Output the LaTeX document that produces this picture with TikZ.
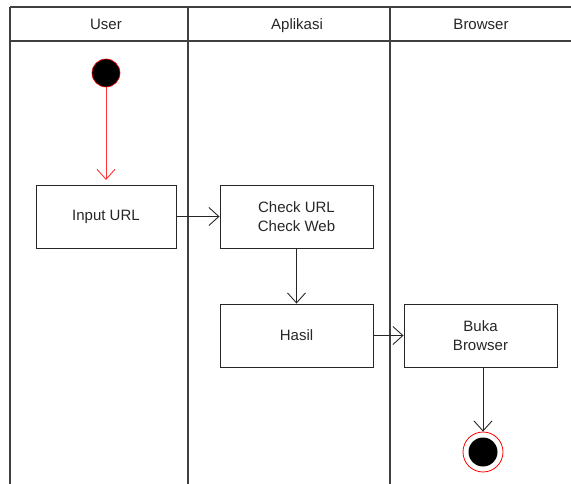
\documentclass[tikz,border=0pt]{standalone}
\usepackage{fontspec}
\setmainfont{Liberation Sans}
\usetikzlibrary{arrows.meta}
\begin{document}
\begin{tikzpicture}[x=1pt,y=-1pt,
    act/.style={draw=black!85, line width=0.9pt, minimum width=140pt, minimum height=63pt, align=center, font=\fontsize{15}{19}\selectfont, text=black!85, inner sep=0pt},
    head/.style={anchor=base, font=\fontsize{15}{19}\selectfont, text=black!85},
    flow/.style={draw=black!85, line width=0.9pt, -{Straight Barb[length=10pt,width=18pt]}},
    lane/.style={draw=black!75, line width=1.1pt}]
            \useasboundingbox (0,0) rectangle (571,484);
            \clip (0,0) rectangle (571,484);
            % swimlanes
            \draw[lane] (10,7) -- (580,7);
            \draw[lane] (10,41) -- (580,41);
            \draw[lane] (10,7) -- (10,490);
            \draw[lane] (188,7) -- (188,490);
            \draw[lane] (390,7) -- (390,490);
            \node[head] (huser) at (106,30) {User};
            \node[head] (happ) at (297,30) {Aplikasi};
            \node[head] (hbrowser) at (481,30) {Browser};
            % start and end
            \node[circle, fill=black, draw=red, line width=0.6pt, minimum size=28pt, inner sep=0pt] (start) at (106,73) {};
            \node[circle, fill=white, draw=red, line width=0.8pt, minimum size=40pt, inner sep=0pt] (end) at (483,452) {};
            \fill (end) circle (14.5);
            % activities
            \node[act] (input) at (106,216.5) {Input URL};
            \node[act, minimum width=153pt] (check) at (296.5,216.5) {Check URL\\Check Web};
            \node[act, minimum width=153pt] (hasil) at (296.5,335.5) {Hasil};
            \node[act, minimum width=153pt] (buka) at (480.5,335.5) {Buka\\Browser};
            % transitions
            \draw[flow, draw=red!80] (start) -- (106,180);
            \draw[flow] (input) -- (check);
            \draw[flow] (check) -- (hasil);
            \draw[flow] (hasil) -- (buka);
            \draw[flow] (buka.south -| end) -- (end);
        \end{tikzpicture}
\end{document}
